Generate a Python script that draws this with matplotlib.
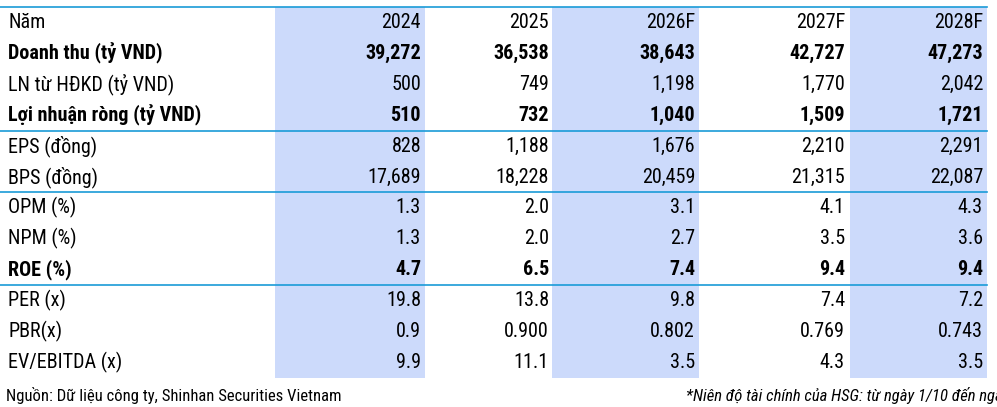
import matplotlib
matplotlib.use("Agg")
import matplotlib.pyplot as plt
from matplotlib.patches import Rectangle

years = ["2024", "2025", "2026F", "2027F", "2028F"]
labels = ["Doanh thu (tỷ VND)", "LN từ HĐKD (tỷ VND)", "Lợi nhuận ròng (tỷ VND)",
          "EPS (đồng)", "BPS (đồng)", "OPM (%)", "NPM (%)", "ROE (%)",
          "PER (x)", "PBR(x)", "EV/EBITDA (x)"]
values = [
    ["39,272", "36,538", "38,643", "42,727", "47,273"],
    ["500", "749", "1,198", "1,770", "2,042"],
    ["510", "732", "1,040", "1,509", "1,721"],
    ["828", "1,188", "1,676", "2,210", "2,291"],
    ["17,689", "18,228", "20,459", "21,315", "22,087"],
    ["1.3", "2.0", "3.1", "4.1", "4.3"],
    ["1.3", "2.0", "2.7", "3.5", "3.6"],
    ["4.7", "6.5", "7.4", "9.4", "9.4"],
    ["19.8", "13.8", "9.8", "7.4", "7.2"],
    ["0.9", "0.900", "0.802", "0.769", "0.743"],
    ["9.9", "11.1", "3.5", "4.3", "3.5"],
]
bold_rows = [0, 2, 7]
source = "Nguồn: Dữ liệu công ty, Shinhan Securities Vietnam"
note = "*Niên độ tài chính của HSG: từ ngày 1/10 đến ngày 30/9"

fam = ["Liberation Sans Narrow", "Roboto Condensed", "DejaVu Sans"]
W, H = 997, 407
fig = plt.figure(figsize=(W / 100, H / 100), dpi=100)
ax = fig.add_axes([0, 0, 1, 1])
ax.set_xlim(0, W); ax.set_ylim(H, 0); ax.axis("off")

col_right = [421, 549, 695, 845, 983]
shade = [(275, 425), None, (552, 699), None, (850, 987)]
top, row_h = 7, 30.9
for s in shade:
    if s:
        ax.add_patch(Rectangle((s[0], top), s[1] - s[0], 12 * row_h, color="#CCDAFB", lw=0, zorder=0))

blue = "#1A9BD7"
for yl in [top, top + 4 * row_h, top + 6 * row_h, top + 9 * row_h]:
    ax.plot([0, 987], [yl, yl], color=blue, lw=1.2, zorder=2)

fs = 14.5
def yc(i):
    return top + (i + 0.5) * row_h

ax.text(8, yc(0), "Năm", fontsize=fs, family=fam, va="center", ha="left")
for j, y in enumerate(years):
    ax.text(col_right[j], yc(0), y, fontsize=fs, family=fam, va="center", ha="right")
for i, lab in enumerate(labels):
    w = "bold" if i in bold_rows else "normal"
    ax.text(8, yc(i + 1), lab, fontsize=fs, family=fam, va="center", ha="left", weight=w)
    for j, v in enumerate(values[i]):
        ax.text(col_right[j], yc(i + 1), v, fontsize=fs, family=fam, va="center", ha="right", weight=w)

ax.text(6, 395, source, fontsize=12, family=fam, va="center", ha="left")
ax.text(686, 395, note, fontsize=12, family=fam, va="center", ha="left", style="italic", clip_on=True)

fig.savefig("out.png", dpi=100)
